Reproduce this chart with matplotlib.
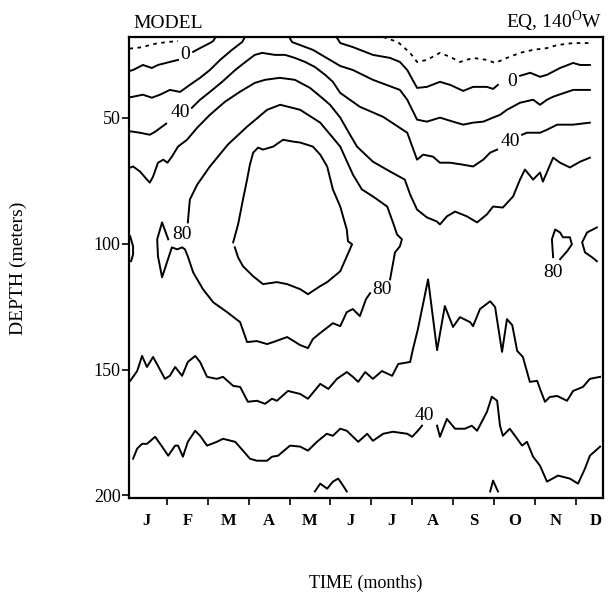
import matplotlib
matplotlib.use('Agg')
import matplotlib.pyplot as plt

# model contours at EQ, 140W: time in months from 1 Jan, depth in meters
dot_a_t = [0.08, 0.22, 0.41, 0.66, 1.00, 1.27]
dot_a_d = [22.6, 22.4, 22.0, 20.8, 20.0, 19.6]
dot_b_t = [6.29, 6.65, 6.95, 7.12, 7.36, 7.68, 7.93, 8.17, 8.49, 8.83, 9.03, 9.32,
           9.64, 9.96, 10.30, 10.55, 10.94, 11.35]
dot_b_d = [18.0, 20.0, 24.3, 27.9, 27.1, 24.3, 25.9, 27.9, 26.3, 27.1, 28.3, 26.3,
           24.3, 23.1, 22.4, 21.2, 20.4, 20.4]

c0a_t = [0.08, 0.17, 0.41, 0.63, 0.78, 1.07, 1.27]
c0a_d = [31.5, 31.1, 29.1, 30.3, 29.1, 27.9, 27.1]
c0b_t = [1.64, 1.81, 2.05, 2.13, 2.23]
c0b_d = [23.9, 22.4, 20.4, 19.6, 17.0]
c0c_t = [5.11, 5.24, 5.55, 6.04, 6.46, 6.70, 6.88, 7.12, 7.36, 7.68, 7.93, 8.25,
         8.49, 8.83, 8.98, 9.10]
c0c_d = [17.0, 20.4, 22.0, 25.1, 26.3, 27.9, 31.1, 38.2, 37.8, 35.8, 37.0, 39.4,
         37.8, 37.8, 38.6, 37.0]
c0d_t = [9.64, 9.89, 10.13, 10.30, 10.62, 10.94, 11.11, 11.35]
c0d_d = [33.4, 32.2, 33.8, 33.0, 30.3, 28.3, 29.1, 29.1]

c20a_t = [0.08, 0.17, 0.41, 0.63, 0.83, 1.07, 1.32, 1.56, 1.81, 2.05, 2.30, 2.59,
          2.84, 2.94]
c20a_d = [42.0, 41.7, 40.9, 42.1, 40.9, 39.0, 39.8, 37.0, 34.2, 31.1, 27.1, 23.1,
          20.0, 17.0]
c20b_t = [3.96, 4.06, 4.57, 4.99, 5.24, 5.55, 6.04, 6.70, 6.88, 7.12, 7.36, 7.68,
          8.00, 8.25, 8.49, 8.74, 8.98, 9.15, 9.32, 9.64, 9.96, 10.13, 10.30, 10.45,
          10.94, 11.35]
c20b_d = [17.0, 20.0, 23.1, 27.1, 29.5, 31.1, 35.0, 39.0, 42.9, 50.8, 51.6, 50.0,
          51.6, 52.8, 52.0, 51.6, 50.0, 48.9, 46.9, 44.1, 42.9, 44.9, 42.9, 41.7,
          39.0, 39.0]

c40a_t = [0.08, 0.17, 0.34, 0.58, 0.71, 0.98]
c40a_d = [55.4, 55.6, 56.0, 56.8, 55.6, 52.4]
c40b_t = [1.61, 1.81, 2.05, 2.35, 2.67, 2.92, 3.15, 3.33, 3.64, 3.89, 4.13, 4.38,
          4.62, 4.87, 5.06, 5.24, 5.72, 6.29, 6.88, 7.12, 7.27, 7.51, 7.68, 7.93,
          8.25, 8.49, 8.74, 8.91, 9.08]
c40b_d = [46.1, 42.9, 39.8, 35.8, 31.1, 27.9, 25.1, 24.3, 25.1, 25.1, 26.3, 27.9,
          29.9, 33.0, 35.8, 40.2, 45.7, 49.7, 56.0, 66.7, 64.7, 65.5, 67.9, 67.9,
          68.7, 69.4, 66.7, 63.9, 62.7]
c40c_t = [9.69, 9.81, 10.13, 10.30, 10.55, 10.94, 11.35]
c40c_d = [56.8, 56.0, 56.0, 54.8, 52.8, 52.8, 52.0]

c60_t = [0.08, 0.17, 0.34, 0.51, 0.58, 0.66, 0.78, 0.91, 1.01, 1.12, 1.27, 1.49,
         1.74, 2.05, 2.42, 2.78, 3.15, 3.40, 3.76, 4.13, 4.50, 4.79, 4.99, 5.24,
         5.48, 5.65, 6.04, 6.46, 6.82, 6.95, 7.12, 7.36, 7.60, 7.68, 7.85, 8.05,
         8.34, 8.59, 8.83, 8.98, 9.22, 9.47, 9.64, 9.76, 9.96, 10.13, 10.20, 10.45,
         10.62, 10.86, 11.11, 11.35]
c60_d = [70.0, 69.4, 71.4, 74.6, 75.8, 73.4, 67.9, 66.7, 67.9, 65.5, 61.5, 58.8,
         54.0, 48.9, 43.7, 39.8, 36.2, 35.0, 34.2, 35.0, 38.2, 42.1, 44.9, 50.0,
         56.8, 61.5, 67.5, 71.4, 74.6, 80.5, 86.5, 89.6, 91.2, 92.4, 89.2, 87.3,
         89.2, 91.6, 88.4, 85.3, 85.7, 81.3, 74.6, 70.6, 74.6, 71.8, 75.4, 65.9,
         67.9, 69.8, 67.5, 65.9]

c80a_t = [1.51, 1.56, 1.74, 2.05, 2.49, 2.96, 3.45, 3.77, 4.26, 4.75, 5.24, 5.55,
          5.77, 6.04, 6.39, 6.53, 6.63, 6.75, 6.70, 6.58, 6.46]
c80a_d = [91.6, 82.5, 76.6, 69.4, 60.7, 53.6, 46.9, 44.9, 46.9, 52.0, 61.5, 72.6,
          78.5, 81.3, 85.3, 91.6, 96.4, 98.3, 101.1, 103.5, 114.2]
c80b_t = [5.97, 5.87, 5.72, 5.55, 5.40, 5.24, 5.06, 4.75, 4.57, 4.45, 4.26, 3.94,
          3.60, 3.45, 3.20, 2.96, 2.79, 2.47, 2.13, 1.88, 1.64, 1.51, 1.44, 1.37,
          1.25, 1.12, 1.00, 0.88, 0.78, 0.76, 0.88, 1.03]
c80b_d = [119.7, 122.1, 128.8, 126.0, 127.2, 132.8, 131.6, 135.5, 137.9, 141.5,
          140.3, 137.1, 139.1, 139.9, 138.7, 139.1, 131.2, 127.2, 123.3, 118.1,
          111.4, 105.1, 102.3, 101.5, 102.3, 101.5, 107.4, 113.4, 105.1, 98.3,
          91.6, 98.3]
c80_edge_t = [0.10, 0.17, 0.17, 0.12]
c80_edge_d = [97.1, 101.1, 104.3, 107.0]
c80_r1_t = [10.45, 10.42, 10.50, 10.62, 10.69, 10.86, 10.91, 10.79, 10.62]
c80_r1_d = [105.4, 98.3, 94.4, 95.6, 97.5, 97.5, 100.3, 103.1, 106.2]
c80_r2_t = [11.52, 11.28, 11.16, 11.23, 11.40, 11.52]
c80_r2_d = [93.6, 95.6, 99.5, 103.5, 105.4, 107.0]

core_t = [2.62, 2.74, 2.86, 2.96, 3.03, 3.11, 3.23, 3.35, 3.60, 3.84, 4.08, 4.26,
          4.57, 4.75, 4.92, 5.06, 5.24, 5.40, 5.43, 5.53, 5.40, 5.24, 4.92, 4.75,
          4.45, 4.26, 3.94, 3.69, 3.35, 3.11, 2.86, 2.74, 2.66]
core_d = [99.5, 92.4, 82.5, 74.6, 68.6, 63.9, 61.9, 62.7, 61.5, 58.8, 59.5, 59.9,
          61.5, 64.7, 69.4, 78.5, 85.3, 94.4, 99.1, 100.3, 105.1, 111.0, 115.3,
          116.9, 120.1, 118.1, 116.1, 115.3, 116.1, 113.0, 109.0, 105.5, 101.5]

deep1_t = [0.10, 0.27, 0.39, 0.51, 0.66, 0.78, 0.95, 1.07, 1.20, 1.37, 1.51, 1.69,
           1.81, 1.98, 2.22, 2.37, 2.62, 2.79, 2.98, 3.20, 3.40, 3.57, 3.69, 3.96,
           4.26, 4.45, 4.75, 4.95, 5.16, 5.40, 5.55, 5.68, 5.85, 6.04, 6.26, 6.51,
           6.66, 6.95, 7.02, 7.14, 7.39, 7.61, 7.80, 8.00, 8.17, 8.42, 8.49, 8.66,
           8.91, 9.03, 9.20, 9.32, 9.45, 9.57, 9.71, 9.88, 10.06, 10.13, 10.25,
           10.37, 10.55, 10.79, 10.94, 11.18, 11.35, 11.60]
deep1_d = [154.5, 150.6, 144.6, 149.0, 145.0, 148.6, 153.7, 152.5, 149.0, 152.5,
           147.0, 144.6, 147.0, 152.9, 153.7, 152.9, 156.5, 156.9, 162.8, 162.4,
           163.6, 161.6, 162.4, 158.5, 159.7, 161.6, 155.7, 157.7, 153.7, 151.0,
           152.9, 154.9, 151.0, 153.7, 150.6, 152.5, 147.8, 147.0, 141.9, 134.0,
           114.2, 142.3, 124.8, 133.1, 129.2, 131.2, 132.8, 126.0, 122.9, 125.2,
           143.0, 130.0, 132.4, 142.6, 145.0, 154.9, 154.5, 157.7, 162.8, 160.9,
           160.5, 162.4, 158.5, 156.9, 153.7, 152.9]

deep2a_t = [0.17, 0.27, 0.39, 0.51, 0.71, 0.88, 1.03, 1.20, 1.27, 1.39, 1.51, 1.69,
            1.81, 1.98, 2.22, 2.37, 2.67, 2.86, 3.03, 3.20, 3.45, 3.57, 3.72, 4.01,
            4.26, 4.45, 4.67, 4.91, 5.06, 5.24, 5.40, 5.68, 5.90, 6.04, 6.29, 6.53,
            6.88, 7.00, 7.14, 7.24]
deep2a_d = [185.4, 181.4, 179.5, 179.5, 176.7, 180.6, 184.2, 180.2, 180.2, 184.6,
            178.7, 174.3, 176.3, 180.2, 178.7, 177.5, 178.7, 182.2, 185.4, 186.2,
            186.2, 184.6, 184.2, 180.2, 180.6, 182.2, 178.7, 175.5, 176.3, 173.5,
            174.3, 178.7, 175.5, 178.3, 175.5, 174.7, 175.5, 176.7, 174.3, 172.3]
deep2b_t = [7.61, 7.68, 7.85, 8.05, 8.29, 8.46, 8.59, 8.83, 8.95, 9.08, 9.15, 9.22,
            9.39, 9.57, 9.69, 9.81, 9.96, 10.13, 10.30, 10.57, 10.86, 11.06, 11.23,
            11.35, 11.60]
deep2b_d = [172.3, 176.7, 169.6, 173.5, 173.5, 172.3, 174.3, 166.8, 160.8, 162.4,
            172.3, 176.3, 173.5, 177.5, 180.2, 178.7, 184.6, 188.2, 194.5, 192.1,
            193.3, 195.3, 189.3, 184.2, 180.6]

bump1_t = [4.62, 4.75, 4.92, 5.06, 5.19, 5.31, 5.40]
bump1_d = [198.4, 195.3, 197.3, 194.5, 193.3, 196.1, 198.4]
bump2_t = [8.91, 8.98, 9.10]
bump2_d = [198.4, 194.1, 198.4]

# contour labels: (time, depth, text)
labels = [(1.44, 25.1, '0'), (9.44, 35.8, '0'),
          (1.32, 48.1, '40'), (9.40, 59.6, '40'), (7.30, 168.4, '40'),
          (1.37, 96.4, '80'), (6.26, 118.1, '80'), (10.45, 111.4, '80')]

months = ['J', 'F', 'M', 'A', 'M', 'J', 'J', 'A', 'S', 'O', 'N', 'D']
depth_ticks = [50, 100, 150, 200]

plt.rcParams['font.family'] = ['Liberation Serif', 'DejaVu Serif']
plt.rcParams['mathtext.fontset'] = 'custom'
plt.rcParams['mathtext.rm'] = 'Liberation Serif'

fig = plt.figure(figsize=(6.09, 5.93), dpi=100)
ax = fig.add_axes([0.2118, 0.1602, 0.7783, 0.7774])

solid = [(c0a_t, c0a_d), (c0b_t, c0b_d), (c0c_t, c0c_d), (c0d_t, c0d_d),
         (c20a_t, c20a_d), (c20b_t, c20b_d),
         (c40a_t, c40a_d), (c40b_t, c40b_d), (c40c_t, c40c_d),
         (c60_t, c60_d), (c80a_t, c80a_d), (c80b_t, c80b_d),
         (c80_edge_t, c80_edge_d), (c80_r1_t, c80_r1_d), (c80_r2_t, c80_r2_d),
         (core_t, core_d), (deep1_t, deep1_d), (deep2a_t, deep2a_d),
         (deep2b_t, deep2b_d), (bump1_t, bump1_d), (bump2_t, bump2_d)]
for t, d in solid:
    ax.plot(t, d, color='black', lw=1.4, solid_joinstyle='round', clip_on=True)

for t, d in [(dot_a_t, dot_a_d), (dot_b_t, dot_b_d)]:
    ax.plot(t, d, color='black', lw=1.3, linestyle=(0, (2.0, 2.5)))

for t, d, s in labels:
    ax.text(t, d, s, fontsize=14, ha='center', va='center')

ax.set_xlim(0.07, 11.67)
ax.set_ylim(201, 18)

ax.set_xticks(range(1, 12))
ax.set_xticklabels([])
ax.set_xticks([m + 0.5 for m in range(12)], minor=True)
ax.set_xticklabels(months, minor=True, fontsize=12, fontweight='bold')
ax.tick_params(axis='x', which='major', direction='out', length=5, width=1.2)
ax.tick_params(axis='x', which='minor', length=0, pad=11)

ax.set_yticks(depth_ticks)
ax.set_yticklabels([str(v) for v in depth_ticks], fontsize=13)
ax.tick_params(axis='y', direction='out', length=5, width=1.2, pad=1)

for sp in ax.spines.values():
    sp.set_linewidth(1.6)

fig.text(133 / 609, 1 - 28 / 593, 'MODEL', fontsize=14, ha='left', va='baseline')
fig.text(602 / 609, 1 - 28 / 593, r'EQ, 140$^{\rm O}$W', fontsize=14,
         ha='right', va='baseline')
fig.text(18 / 609, 1 - 268 / 593, 'DEPTH (meters)', fontsize=14,
         rotation=90, ha='center', va='center')
fig.text(366 / 609, 1 - 583 / 593, 'TIME (months)', fontsize=13,
         ha='center', va='center')

fig.savefig('out.png', dpi=100)
